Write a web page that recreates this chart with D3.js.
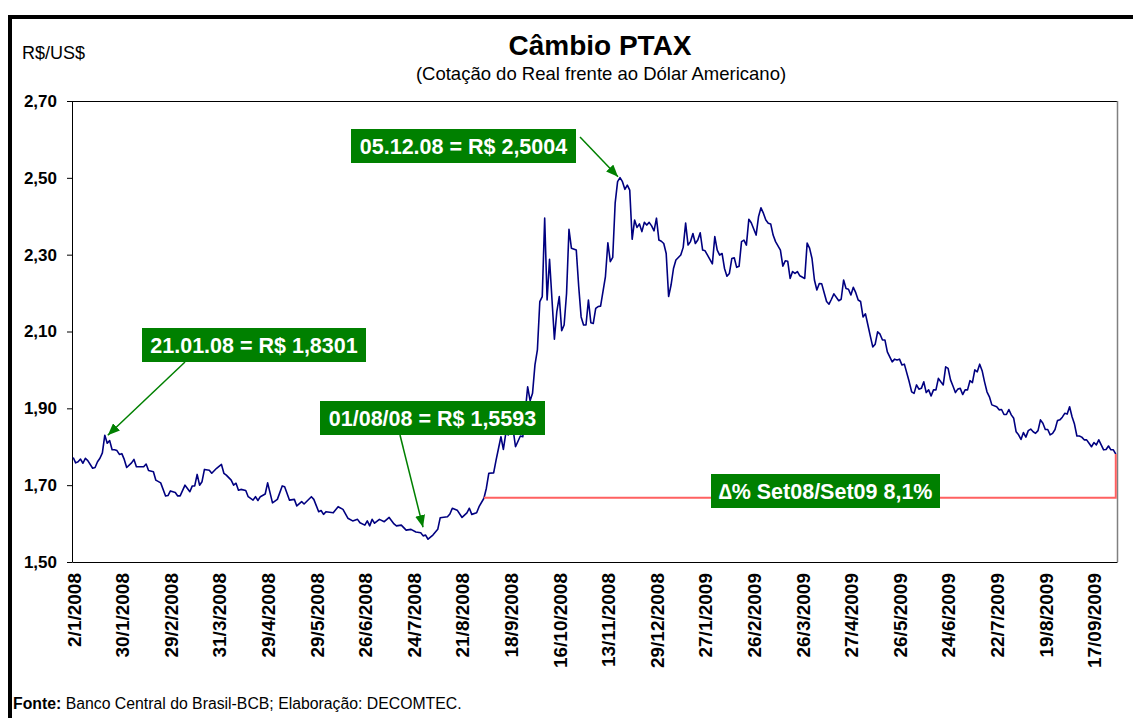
<!DOCTYPE html>
<html>
<head>
<meta charset="utf-8">
<script src="https://d3js.org/d3.v7.min.js"></script>
<style>
  body { margin: 0; background: #fff; }
  svg text { font-family: "Liberation Sans", Arial, sans-serif; }
</style>
</head>
<body>
<script>
"use strict";

// trading day index (0 = 2/1/2008) and PTAX rate
var dia = [0,1,2,3,4,5,6,8,9,10,11,12,13,14,15,16,17,18,19,20,21,22,24,25,26,29,30,31,33,34,36,38,39,40,42,43,44,46,48,49,
  50,51,52,53,54,56,57,59,61,62,63,65,66,67,68,69,71,72,74,75,76,77,79,80,82,84,86,87,89,91,92,94,95,98,99,
  101,102,103,104,107,109,111,113,115,117,118,120,121,122,123,124,126,128,130,132,133,135,137,139,141,143,144,145,146,148,
  150,151,154,155,156,158,160,162,163,164,166,167,169,170,171,173,174,176,177,178,179,181,182,184,185,187,188,189,
  190,191,192,193,194,195,196,198,199,200,201,202,203,204,205,207,208,209,210,211,212,213,214,215,216,217,219,
  220,221,222,223,224,225,226,227,228,229,230,231,232,233,234,235,236,237,238,239,240,241,242,243,244,245,246,247,248,
  250,251,252,253,254,255,256,257,258,259,260,261,263,264,265,266,267,268,269,270,271,272,273,274,275,276,277,278,279,
  281,282,283,284,285,286,287,288,289,291,292,293,294,295,296,297,298,299,301,302,303,304,305,306,307,308,309,
  310,311,312,313,315,316,317,318,319,320,321,322,323,324,325,326,327,328,329,330,331,332,333,334,335,337,338,339,
  340,341,342,344,345,346,347,348,349,350,351,352,353,354,355,356,357,358,359,360,361,362,363,364,365,366,367,368,369,
  370,371,372,373,374,375,376,377,378,380,381,382,383,384,385,386,387,388,389,390,391,392,393,394,395,396,397,398,399,
  400,401,402,403,404,405,406,407,408,409,410,411,412,413,414,415,416,417,418,419,420,421,422,423,424,425,426,427,428,429];

var cotacao = [1.772,1.758,1.761,1.768,1.757,1.770,1.764,1.744,1.746,1.761,1.770,1.784,1.8301,1.809,1.816,1.792,1.792,1.790,1.780,1.782,1.767,1.746,1.758,1.767,1.748,1.748,1.755,1.738,1.735,1.713,1.706,1.672,1.673,1.685,1.681,1.672,1.672,1.700,1.683,1.698,
  1.698,1.728,1.700,1.709,1.741,1.739,1.731,1.744,1.754,1.731,1.726,1.713,1.700,1.705,1.687,1.689,1.686,1.670,1.661,1.670,1.660,1.670,1.677,1.706,1.654,1.663,1.698,1.696,1.661,1.663,1.646,1.657,1.651,1.670,1.663,
  1.631,1.634,1.624,1.631,1.628,1.644,1.637,1.614,1.607,1.611,1.602,1.596,1.607,1.594,1.611,1.601,1.611,1.605,1.616,1.599,1.594,1.596,1.583,1.585,1.578,1.576,1.568,1.570,1.5593,1.570,
  1.585,1.615,1.618,1.625,1.640,1.635,1.616,1.628,1.640,1.624,1.628,1.644,1.666,1.692,1.731,1.732,1.765,1.826,1.793,1.835,1.831,1.845,1.800,1.828,1.826,1.956,1.920,1.939,
  2.013,2.052,2.178,2.191,2.395,2.182,2.288,2.080,2.152,2.191,2.102,2.117,2.199,2.366,2.317,2.312,2.217,2.138,2.117,2.117,2.182,2.123,2.121,2.160,2.165,2.166,2.243,
  2.331,2.282,2.293,2.434,2.490,2.5004,2.490,2.470,2.481,2.468,2.340,2.390,2.371,2.380,2.360,2.384,2.377,2.384,2.375,2.362,2.395,2.338,2.335,2.329,2.303,2.191,2.221,2.264,2.286,
  2.299,2.319,2.382,2.325,2.334,2.355,2.329,2.338,2.357,2.312,2.310,2.299,2.276,2.347,2.312,2.299,2.303,2.264,2.244,2.251,2.290,2.292,2.267,2.270,2.334,2.338,2.325,2.392,2.383,
  2.351,2.399,2.422,2.408,2.390,2.382,2.380,2.351,2.334,2.312,2.270,2.284,2.283,2.238,2.256,2.251,2.256,2.245,2.238,2.330,2.317,2.290,2.234,2.208,2.225,2.224,2.201,
  2.178,2.171,2.184,2.198,2.180,2.184,2.234,2.212,2.210,2.195,2.215,2.201,2.182,2.178,2.138,2.146,2.117,2.088,2.060,2.067,2.099,2.093,2.078,2.078,2.047,2.021,2.028,2.026,
  2.028,2.013,2.015,1.969,1.943,1.939,1.961,1.950,1.952,1.969,1.941,1.948,1.932,1.948,1.948,1.978,1.969,1.961,2.008,2.004,1.974,1.958,1.941,1.950,1.952,1.936,1.948,1.948,1.972,
  1.967,2.000,1.995,2.015,1.998,1.969,1.943,1.930,1.909,1.904,1.896,1.897,1.884,1.884,1.897,1.883,1.874,1.839,1.831,1.819,1.837,1.825,1.842,1.846,1.839,1.835,1.842,1.870,1.861,
  1.845,1.845,1.831,1.835,1.845,1.868,1.870,1.877,1.887,1.885,1.904,1.878,1.859,1.828,1.828,1.825,1.818,1.818,1.809,1.800,1.811,1.805,1.818,1.805,1.792,1.793,1.802,1.792,1.792,1.781];

var nDias = 430;
var tickDias = [0,20,40,60,80,100,120,140,160,180,200,220,240,260,280,300,320,340,360,380,400,420];
var tickLabels = ["2/1/2008","30/1/2008","29/2/2008","31/3/2008","29/4/2008","29/5/2008","26/6/2008","24/7/2008",
  "21/8/2008","18/9/2008","16/10/2008","13/11/2008","29/12/2008","27/1/2009","26/2/2009","26/3/2009",
  "27/4/2009","26/5/2009","24/6/2009","22/7/2009","19/8/2009","17/09/2009"];
var yTicks = [1.5, 1.7, 1.9, 2.1, 2.3, 2.5, 2.7];

// highlighted points
var notaTextos = ["21.01.08 = R$ 1,8301", "01/08/08 = R$ 1,5593", "05.12.08 = R$ 2,5004"];
var notaDias = [13, 146, 225];
var notaValores = [1.8301, 1.5593, 2.5004];

// Set08 -> Set09 comparison
var varTexto = "\u2206% Set08/Set09 8,1%";
var varDiaIni = 169;
var varValorIni = 1.667;

/* layout */
var W = 1133, H = 718;
var plot = { left: 72, top: 101, right: 1117, bottom: 562 };
var verde = "#008000";

var svg = d3.select("body").append("svg")
    .attr("width", W)
    .attr("height", H);

// outer frame (runs off the right and bottom edge like the original)
svg.append("rect")
    .attr("x", 10).attr("y", 17)
    .attr("width", 1200).attr("height", 800)
    .attr("fill", "none")
    .attr("stroke", "#000")
    .attr("stroke-width", 4);

var x = d3.scaleLinear().domain([-0.5, nDias - 0.5]).range([plot.left, plot.right]);
var y = d3.scaleLinear().domain([1.5, 2.7]).range([plot.bottom, plot.top]);

// plot border
svg.append("line")
    .attr("x1", plot.left).attr("x2", plot.right)
    .attr("y1", plot.top + 0.5).attr("y2", plot.top + 0.5)
    .attr("stroke", "#000");
svg.append("line")
    .attr("x1", plot.right + 0.5).attr("x2", plot.right + 0.5)
    .attr("y1", plot.top).attr("y2", plot.bottom)
    .attr("stroke", "#808080").attr("stroke-width", 1.5);

// titles
svg.append("text")
    .attr("x", 600).attr("y", 55)
    .attr("text-anchor", "middle")
    .style("font-size", "28px").style("font-weight", "bold")
    .text("Câmbio PTAX");
svg.append("text")
    .attr("x", 601).attr("y", 80)
    .attr("text-anchor", "middle")
    .style("font-size", "18.5px")
    .text("(Cotação do Real frente ao Dólar Americano)");
svg.append("text")
    .attr("x", 22).attr("y", 59)
    .style("font-size", "18px")
    .text("R$/US$");

// y axis
var yAxis = svg.append("g")
    .attr("transform", "translate(" + plot.left + ",0)")
    .call(d3.axisLeft(y)
        .tickValues(yTicks)
        .tickSize(5)
        .tickSizeOuter(0)
        .tickPadding(10)
        .tickFormat(function(d) { return d3.format(".2f")(d).replace(".", ","); }));
yAxis.selectAll("text")
    .style("font-size", "17px").style("font-weight", "bold")
    .attr("fill", "#000");
yAxis.selectAll("line, path").attr("stroke", "#000");

// x axis
var xAxis = svg.append("g")
    .attr("transform", "translate(0," + plot.bottom + ")")
    .call(d3.axisBottom(x)
        .tickValues(tickDias)
        .tickSize(0)
        .tickSizeOuter(0)
        .tickFormat(function(d, i) { return tickLabels[i]; }));
xAxis.select("path").attr("stroke", "#000");
xAxis.selectAll("text")
    .attr("transform", "rotate(-90)")
    .attr("text-anchor", "end")
    .attr("x", -11)
    .attr("y", 0)
    .attr("dy", "0.36em")
    .attr("fill", "#000")
    .style("font-size", "19px").style("font-weight", "bold");

// the series
var serie = dia.map(function(d, i) { return { dia: d, valor: cotacao[i] }; });
var linha = d3.line()
    .x(function(d) { return x(d.dia); })
    .y(function(d) { return y(d.valor); });

svg.append("path")
    .datum(serie)
    .attr("d", linha)
    .attr("fill", "none")
    .attr("stroke", "#000080")
    .attr("stroke-width", 1.6)
    .attr("stroke-linejoin", "round");

// red Set08/Set09 bracket
var ultimo = serie[serie.length - 1];
svg.append("path")
    .attr("d", "M" + x(varDiaIni) + "," + y(varValorIni) +
               "H" + x(ultimo.dia) + "V" + y(ultimo.valor))
    .attr("fill", "none")
    .attr("stroke", "#ff6161")
    .attr("stroke-width", 2);

// arrowhead
svg.append("defs").append("marker")
    .attr("id", "seta")
    .attr("viewBox", "0 0 12 10")
    .attr("refX", 12).attr("refY", 5)
    .attr("markerUnits", "userSpaceOnUse")
    .attr("markerWidth", 12).attr("markerHeight", 10)
    .attr("orient", "auto")
  .append("path")
    .attr("d", "M0,0L12,5L0,10Z")
    .attr("fill", verde);

// annotation boxes: box rect, arrow start, arrow tip offset from the data point
var caixas = [
  { x: 142, y: 328, w: 224, h: 34, ax: 185, ay: 362, dx: 3, dy: 0 },
  { x: 320, y: 401, w: 225, h: 34, ax: 400, ay: 435, dx: -5, dy: -12 },
  { x: 351, y: 129, w: 225, h: 34, ax: 580, ay: 137, dx: -2, dy: -1 }
];

caixas.forEach(function(c, i) {
  svg.append("line")
      .attr("x1", c.ax).attr("y1", c.ay)
      .attr("x2", x(notaDias[i]) + c.dx)
      .attr("y2", y(notaValores[i]) + c.dy)
      .attr("stroke", verde)
      .attr("stroke-width", 1.5)
      .attr("marker-end", "url(#seta)");
  svg.append("rect")
      .attr("x", c.x).attr("y", c.y)
      .attr("width", c.w).attr("height", c.h)
      .attr("fill", verde);
  svg.append("text")
      .attr("x", c.x + c.w / 2).attr("y", c.y + c.h / 2 + 7.5)
      .attr("text-anchor", "middle")
      .attr("fill", "#fff")
      .style("font-size", "21.5px").style("font-weight", "bold")
      .text(notaTextos[i]);
});

svg.append("rect")
    .attr("x", 711).attr("y", 474)
    .attr("width", 229).attr("height", 34)
    .attr("fill", verde);
svg.append("text")
    .attr("x", 711 + 229 / 2).attr("y", 474 + 17 + 7.5)
    .attr("text-anchor", "middle")
    .attr("fill", "#fff")
    .style("font-size", "21.5px").style("font-weight", "bold")
    .text(varTexto);

// source note
var fonte = svg.append("text")
    .attr("x", 13).attr("y", 709)
    .style("font-size", "15.8px");
fonte.append("tspan").style("font-weight", "bold").text("Fonte:");
fonte.append("tspan").text(" Banco Central do Brasil-BCB; Elaboração: DECOMTEC.");
</script>
</body>
</html>
